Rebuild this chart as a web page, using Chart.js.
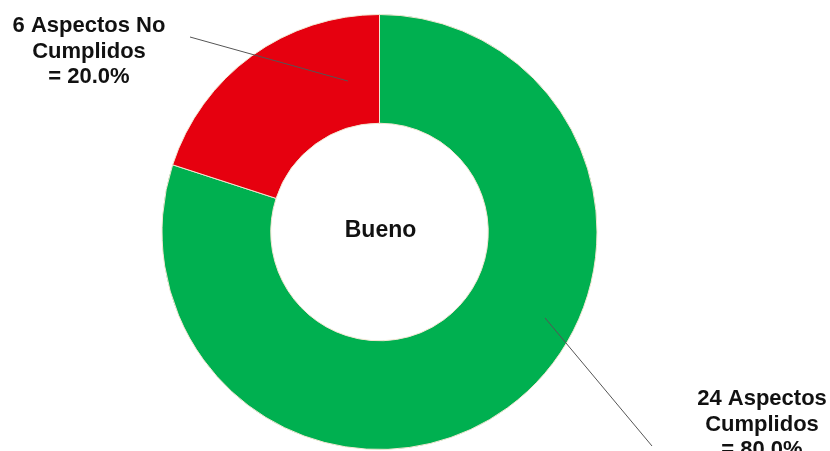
<!DOCTYPE html>
<html>
<head>
<meta charset="utf-8">
<script src="https://cdn.jsdelivr.net/npm/chart.js@4.4.0/dist/chart.umd.min.js"></script>
<style>
  html, body { margin: 0; padding: 0; background: #fff; }
  #wrap { width: 830px; height: 451px; position: relative; }
</style>
</head>
<body>
<div id="wrap"><canvas id="grafica"></canvas></div>
<script>
const categorias = ["Aspectos Cumplidos", "Aspectos No Cumplidos"];
const valores = [24, 6];
const colores = ["#00b050", "#e6000f"];
const etiquetas = [
  ["24 Aspectos", "Cumplidos", "= 80.0%"],
  ["6 Aspectos No", "Cumplidos", "= 20.0%"]
];
const textoCentro = "Bueno";

// posicion de cada etiqueta (px) y punto dentro del sector (en radios desde el centro)
const posEtiquetas = [
  { x: 762, y: 405, lx: 652, ly: 446, ax: 0.761, ay: 0.395 },
  { x: 89, y: 32, lx: 190, ly: 37, ax: -0.145, ay: -0.694 }
];

const etiquetasPlugin = {
  id: "etiquetas",
  afterDatasetsDraw(chart) {
    const ctx = chart.ctx;
    const arcs = chart.getDatasetMeta(0).data;
    const cx = arcs[0].x, cy = arcs[0].y, r = arcs[0].outerRadius;
    ctx.save();
    ctx.strokeStyle = "#555";
    ctx.lineWidth = 1;
    posEtiquetas.forEach((p, i) => {
      ctx.beginPath();
      ctx.moveTo(p.lx, p.ly);
      ctx.lineTo(cx + p.ax * r, cy + p.ay * r);
      ctx.stroke();
      ctx.fillStyle = "#111";
      ctx.font = 'bold 22px "Liberation Sans", Arial, sans-serif';
      ctx.textAlign = "center";
      ctx.textBaseline = "alphabetic";
      etiquetas[i].forEach((linea, j) => ctx.fillText(linea, p.x, p.y + j * 25.5));
    });
    ctx.font = 'bold 23px "Liberation Sans", Arial, sans-serif';
    ctx.textAlign = "center";
    ctx.fillText(textoCentro, cx + 1, cy + 5);
    ctx.restore();
  }
};

new Chart(document.getElementById("grafica"), {
  type: "doughnut",
  data: {
    labels: categorias,
    datasets: [{
      data: valores,
      backgroundColor: colores,
      borderColor: "#f2e6d2",
      borderWidth: 1
    }]
  },
  options: {
    responsive: true,
    maintainAspectRatio: false,
    animation: false,
    cutout: "50%",
    layout: { padding: { left: 161, right: 232, top: 14, bottom: 1 } },
    plugins: { legend: { display: false }, tooltip: { enabled: false } }
  },
  plugins: [etiquetasPlugin]
});
</script>
</body>
</html>
